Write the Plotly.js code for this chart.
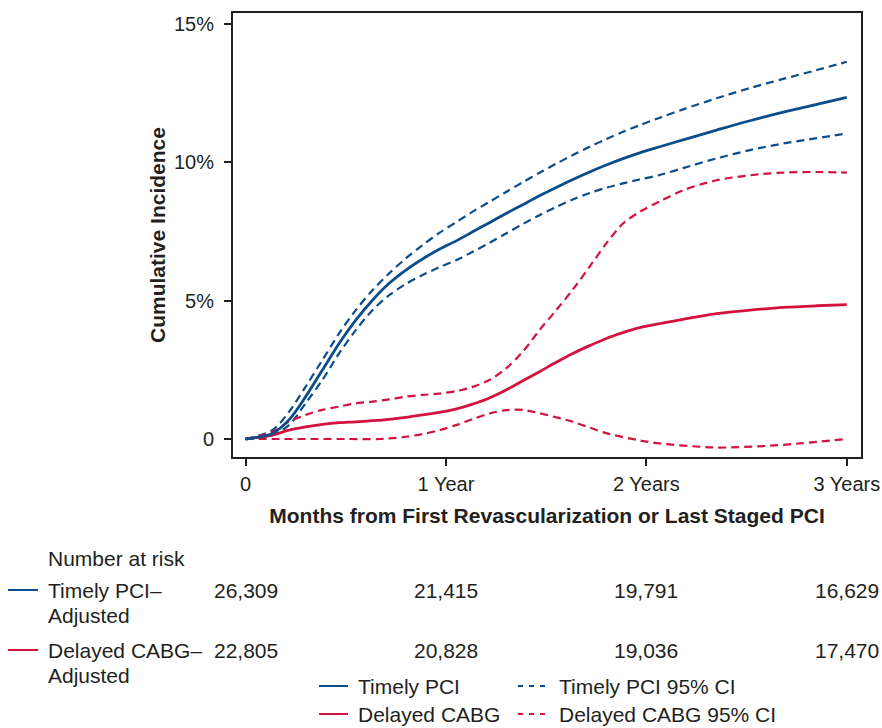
<!DOCTYPE html>
<html>
<head>
<meta charset="utf-8">
<script src="https://cdn.plot.ly/plotly-3.0.1.min.js"></script>
<style>
html,body{margin:0;padding:0;background:#fff;}
#chart{width:882px;height:728px;}
</style>
</head>
<body>
<div id="chart"></div>
<script>
// ---- data (months since revascularization, cumulative incidence %) ----
const months = [0, 1.6, 2.6, 3.6, 4.6, 5.6, 6.6, 7.6, 8.6, 9.6, 10.6, 11.6, 12.7, 13.6, 14.6, 15.6, 16.6, 17.6, 18.6, 19.6, 20.6, 21.6, 22.6, 23.6, 24.8, 26.2, 28.2, 30.2, 32.2, 34.2, 36];
const timelyPCI = [0, 0.2, 0.69, 1.53, 2.49, 3.45, 4.29, 5.01, 5.62, 6.10, 6.50, 6.85, 7.18, 7.48, 7.81, 8.14, 8.46, 8.78, 9.08, 9.37, 9.64, 9.89, 10.12, 10.33, 10.55, 10.80, 11.15, 11.49, 11.80, 12.08, 12.33];
const timelyPCILow = [0, 0.14, 0.5, 1.29, 2.13, 3.09, 3.93, 4.65, 5.19, 5.60, 5.92, 6.20, 6.48, 6.76, 7.08, 7.42, 7.76, 8.08, 8.38, 8.65, 8.88, 9.07, 9.23, 9.37, 9.53, 9.78, 10.13, 10.43, 10.67, 10.86, 11.03];
const timelyPCIHigh = [0, 0.32, 0.98, 1.89, 2.85, 3.81, 4.65, 5.37, 5.98, 6.52, 7.0, 7.44, 7.86, 8.21, 8.56, 8.92, 9.27, 9.61, 9.94, 10.25, 10.55, 10.83, 11.09, 11.33, 11.60, 11.90, 12.30, 12.67, 13.00, 13.32, 13.62];
const delayedCABG = [0, 0.14, 0.32, 0.44, 0.53, 0.59, 0.62, 0.66, 0.71, 0.78, 0.87, 0.96, 1.10, 1.26, 1.48, 1.77, 2.10, 2.43, 2.77, 3.09, 3.37, 3.63, 3.84, 4.02, 4.17, 4.32, 4.53, 4.65, 4.75, 4.81, 4.85];
const delayedCABGHigh = [0, 0.26, 0.62, 0.87, 1.05, 1.17, 1.29, 1.35, 1.43, 1.53, 1.59, 1.64, 1.74, 1.88, 2.13, 2.55, 3.15, 3.93, 4.65, 5.40, 6.22, 7.06, 7.78, 8.20, 8.58, 8.98, 9.34, 9.52, 9.62, 9.64, 9.62];
const delayedCABGLowMonths = [0, 2, 4, 6, 8, 8.6, 9.6, 10.6, 11.6, 12.7, 13.6, 14.6, 15.6, 16.6, 17.6, 19.6, 21.6, 23.6, 24.8, 27.2, 28.4, 31.2, 33.2, 36];
const delayedCABGLow = [0, 0, 0, 0, 0, 0.02, 0.08, 0.18, 0.32, 0.52, 0.72, 0.92, 1.04, 1.05, 0.93, 0.62, 0.21, -0.05, -0.16, -0.28, -0.31, -0.25, -0.16, 0];

const xTickVals = [0, 12, 24, 36];
const xTickText = ['0', '1 Year', '2 Years', '3 Years'];
const yTickVals = [0, 5, 10, 15];
const yTickText = ['0', '5%', '10%', '15%'];

const riskMonths = [0, 12, 24, 36];
const riskTimely = ['26,309', '21,415', '19,791', '16,629'];
const riskDelayed = ['22,805', '20,828', '19,036', '17,470'];

const legendLabels = ['Timely PCI', 'Timely PCI 95% CI', 'Delayed CABG', 'Delayed CABG 95% CI'];

// ---- styling ----
const BLUE = '#0b4d8a';
const RED = '#d3123e';
const INK = '#231f20';
const FONT = 'Liberation Sans, Arial, Helvetica, sans-serif';
const DASH = '8px,5px';

function tr(x, y, color, dashed) {
  return {
    x: x, y: y, type: 'scatter', mode: 'lines', showlegend: false, hoverinfo: 'skip',
    line: {color: color, width: dashed ? 2.2 : 2.8, dash: dashed ? DASH : 'solid', shape: 'spline', smoothing: 0.9}
  };
}

const data = [
  tr(months, timelyPCIHigh, BLUE, true),
  tr(months, timelyPCILow, BLUE, true),
  tr(delayedCABGLowMonths, delayedCABGLow, RED, true),
  tr(months, delayedCABGHigh, RED, true),
  tr(months, delayedCABG, RED, false),
  tr(months, timelyPCI, BLUE, false)
];

// plot area in pixels: x 233..861, y 13..457
const L = 233, R = 861, T = 13, B = 457;
const px = v => (v - L) / (R - L);
const py = v => (B - v) / (B - T);

const annotations = [];
const shapes = [];
const txt = {family: FONT, size: 20, color: INK};
const atxt = {family: FONT, size: 21, color: INK};

annotations.push({xref: 'paper', yref: 'paper', x: px(46), y: py(558), xanchor: 'left', yanchor: 'middle', text: 'Number at risk', showarrow: false, font: atxt});
annotations.push({xref: 'paper', yref: 'paper', x: px(46), y: py(590), xanchor: 'left', yanchor: 'middle', text: 'Timely PCI–', showarrow: false, font: atxt});
annotations.push({xref: 'paper', yref: 'paper', x: px(46), y: py(615), xanchor: 'left', yanchor: 'middle', text: 'Adjusted', showarrow: false, font: atxt});
annotations.push({xref: 'paper', yref: 'paper', x: px(46), y: py(650), xanchor: 'left', yanchor: 'middle', text: 'Delayed CABG–', showarrow: false, font: atxt});
annotations.push({xref: 'paper', yref: 'paper', x: px(46), y: py(675), xanchor: 'left', yanchor: 'middle', text: 'Adjusted', showarrow: false, font: atxt});
shapes.push({type: 'line', xref: 'paper', yref: 'paper', x0: px(8), x1: px(38), y0: py(590), y1: py(590), line: {color: BLUE, width: 2}});
shapes.push({type: 'line', xref: 'paper', yref: 'paper', x0: px(8), x1: px(38), y0: py(650), y1: py(650), line: {color: RED, width: 2}});

riskMonths.forEach((m, i) => {
  annotations.push({xref: 'x', yref: 'paper', x: m, y: py(590), xanchor: 'center', yanchor: 'middle', text: riskTimely[i], showarrow: false, font: atxt});
  annotations.push({xref: 'x', yref: 'paper', x: m, y: py(650), xanchor: 'center', yanchor: 'middle', text: riskDelayed[i], showarrow: false, font: atxt});
});

// bottom legend
const legPos = [
  {lx0: 319, lx1: 348, tx: 356, y: 686, color: BLUE, dash: 'solid'},
  {lx0: 518, lx1: 549, tx: 557, y: 686, color: BLUE, dash: '5px,6px'},
  {lx0: 319, lx1: 348, tx: 356, y: 714, color: RED, dash: 'solid'},
  {lx0: 518, lx1: 549, tx: 557, y: 714, color: RED, dash: '5px,6px'}
];
legPos.forEach((p, i) => {
  shapes.push({type: 'line', xref: 'paper', yref: 'paper', x0: px(p.lx0), x1: px(p.lx1), y0: py(p.y), y1: py(p.y), line: {color: p.color, width: 2, dash: p.dash}});
  annotations.push({xref: 'paper', yref: 'paper', x: px(p.tx), y: py(p.y), xanchor: 'left', yanchor: 'middle', text: legendLabels[i], showarrow: false, font: atxt});
});

const layout = {
  width: 882, height: 728,
  margin: {l: L, r: 882 - R, t: T, b: 728 - B, pad: 0},
  paper_bgcolor: '#fff', plot_bgcolor: '#fff',
  font: txt,
  showlegend: false,
  xaxis: {
    range: [-0.75, 36.85], tickmode: 'array', tickvals: xTickVals, ticktext: xTickText,
    ticks: 'outside', ticklen: 7, tickwidth: 2, tickcolor: INK,
    showline: true, linecolor: INK, linewidth: 2, mirror: true,
    showgrid: false, zeroline: false, tickfont: txt, ticklabelstandoff: 1,
    title: {text: '<b>Months from First Revascularization or Last Staged PCI</b>', font: {family: FONT, size: 21, color: INK}, standoff: 14}
  },
  yaxis: {
    range: [-0.65, 15.38], tickmode: 'array', tickvals: yTickVals, ticktext: yTickText,
    ticks: 'outside', ticklen: 7, tickwidth: 2, tickcolor: INK,
    showline: true, linecolor: INK, linewidth: 2, mirror: true,
    showgrid: false, zeroline: false, tickfont: txt, ticklabelstandoff: 6,
    title: {text: '<b>Cumulative Incidence</b>', font: {family: FONT, size: 21, color: INK}, standoff: 3}
  },
  annotations: annotations,
  shapes: shapes
};

Plotly.newPlot('chart', data, layout, {staticPlot: true, displayModeBar: false});
</script>
</body>
</html>
